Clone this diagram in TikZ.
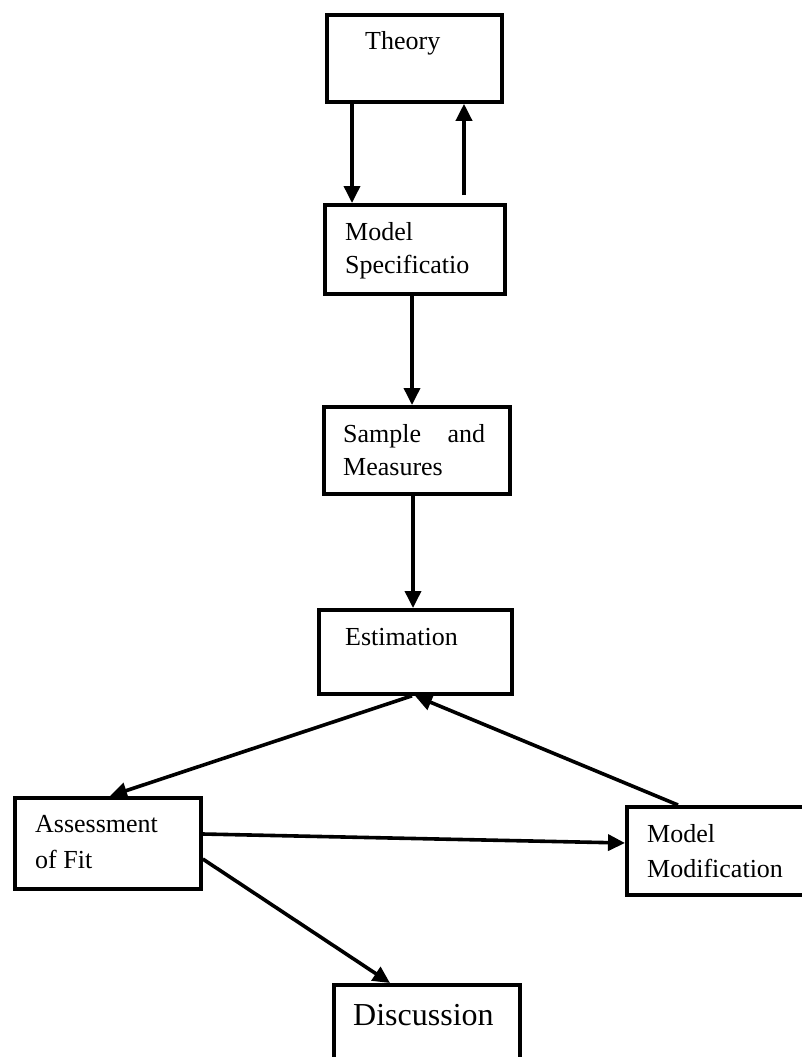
\documentclass[tikz,border=0pt]{standalone}
\usepackage{fontspec}
\setmainfont{Liberation Serif}
\usetikzlibrary{arrows.meta,calc}

\begin{document}
\begin{tikzpicture}[x=1pt,y=-1pt,
  box/.style={draw, line width=3.8pt, rectangle, inner sep=0pt, anchor=north west},
  lbl/.style={anchor=base west, inner sep=0pt, font=\fontsize{26}{31}\selectfont},
  biglbl/.style={anchor=base west, inner sep=0pt, font=\fontsize{32}{38}\selectfont},
  flow/.style={line width=3.6pt, -{Triangle[length=17pt,width=16pt]}}]

  \useasboundingbox (0,0) rectangle (802,1057);
  \clip (0,0) rectangle (802,1057);

  % boxes
  \node[box, minimum width=175pt, minimum height=87pt] (theory) at (325,13) {};
  \node[box, minimum width=180pt, minimum height=89pt] (spec)   at (323,203) {};
  \node[box, minimum width=186pt, minimum height=87pt] (sample) at (322,405) {};
  \node[box, minimum width=193pt, minimum height=84pt] (est)    at (317,608) {};
  \node[box, minimum width=186pt, minimum height=91pt] (assess) at (13,796) {};
  \node[box, minimum width=182pt, minimum height=88pt] (modif)  at (625,805) {};
  \node[box, minimum width=186pt, minimum height=100pt] (disc)  at (332,983) {};

  % labels
  \node[lbl] (tTheory) at (365,50) {Theory};
  \node[lbl] (tSpecA) at (345,240) {Model};
  \node[lbl] (tSpecB) at (345,273) {Specificatio};
  \node[lbl] (tSampA) at (343,442) {\hbox to 142pt{Sample\hfill and}};
  \node[lbl] (tSampB) at (343,475) {Measures};
  \node[lbl] (tEst) at (345,645) {Estimation};
  \node[lbl] (tAssA) at (35,832) {Assessment};
  \node[lbl] (tAssB) at (35,868) {of Fit};
  \node[lbl] (tModA) at (647,842) {Model};
  \node[lbl] (tModB) at (647,877) {Modification};
  \node[biglbl] (tDisc) at (353,1025) {Discussion};

  % connectors
  \draw[flow] ([xshift=27pt]theory.south west) -- ([xshift=29pt]spec.north west);
  \draw[flow] ([xshift=141pt,yshift=8pt]spec.north west) -- ([xshift=139pt]theory.south west);
  \draw[flow] ([xshift=89pt]spec.south west) -- ([xshift=90pt]sample.north west);
  \draw[flow] ([xshift=91pt]sample.south west) -- ([xshift=96pt]est.north west);
  \draw[flow] ([xshift=95pt]est.south west) -- ([xshift=97pt]assess.north west);
  \draw[flow] ([xshift=53pt]modif.north west) -- ([xshift=98pt]est.south west);
  \draw[flow] ([yshift=-38pt]assess.north east) -- ([yshift=-38pt]modif.north west);
  \draw[flow] ([yshift=-63pt]assess.north east) -- ([xshift=58pt]disc.north west);
\end{tikzpicture}
\end{document}
